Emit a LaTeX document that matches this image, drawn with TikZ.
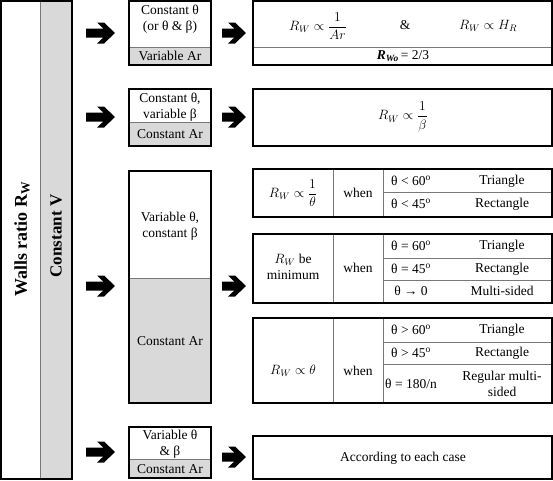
\RequirePackage{fix-cm}
\documentclass[tikz,border=0pt]{standalone}
\usepackage{amsmath}
\usepackage{fontspec}
\setmainfont{Liberation Serif}
\definecolor{grayfill}{RGB}{217,217,217}
\definecolor{sepgray}{RGB}{120,120,120}
\tikzset{
  boxframe/.style={draw=black, line width=1.7pt},
  sepline/.style={draw=sepgray, line width=0.8pt},
  lbl/.style={align=center, inner sep=0pt, font=\fontsize{13.5}{16.5}\selectfont},
  blockarr/.style={fill=black, draw=none}
}
\newcommand{\blockarrow}[3]{% left x, right x, center y
  \fill[blockarr] (#1,#3-4.5) -- (#2-11.7,#3-4.5) -- (#2-18,#3-10.5) -- (#2-11,#3-10.5)
    -- (#2,#3) -- (#2-11,#3+10.5) -- (#2-18,#3+10.5) -- (#2-11.7,#3+4.5) -- (#1,#3+4.5) -- cycle;}
\begin{document}
\begin{tikzpicture}[x=1pt,y=-1pt]
\useasboundingbox (0,0) rectangle (553,480);
% ---------- left column ----------
\fill[grayfill] (40,1) rectangle (72,479);
\draw[sepline] (40,1) -- (40,479);
\draw[boxframe] (1,1) rectangle (72,479);
\node[lbl, rotate=90, font=\fontsize{18}{20}\selectfont\bfseries] (walls) at (22,239) {Walls ratio R\textsubscript{W}};
\node[lbl, rotate=90, font=\fontsize{17}{19}\selectfont\bfseries] (constV) at (56,236) {Constant V};
% ---------- arrows ----------
\blockarrow{86}{115}{33}
\blockarrow{86}{115}{117}
\blockarrow{86}{115}{286}
\blockarrow{86}{115}{452}
\blockarrow{222}{246}{33}
\blockarrow{222}{246}{117}
\blockarrow{222}{246}{286}
\blockarrow{222}{246}{457}
% ---------- middle boxes ----------
\fill[grayfill] (129,47) rectangle (211,65);
\draw[sepline] (129,47) -- (211,47);
\draw[boxframe] (129,1) rectangle (211,65);
\node[lbl] (m1a) at (170,19) {Constant θ\\(or θ \& β)};
\node[lbl] (m1b) at (170,56) {Variable Ar};

\fill[grayfill] (129,122) rectangle (211,146);
\draw[sepline] (129,122) -- (211,122);
\draw[boxframe] (129,89) rectangle (211,146);
\node[lbl] (m2a) at (170,107) {Constant θ,\\variable β};
\node[lbl] (m2b) at (170,134) {Constant Ar};

\fill[grayfill] (129,278) rectangle (211,403);
\draw[sepline] (129,278) -- (211,278);
\draw[boxframe] (129,171) rectangle (211,403);
\node[lbl] (m3a) at (170,226) {Variable θ,\\constant β};
\node[lbl] (m3b) at (170,341) {Constant Ar};

\fill[grayfill] (129,459) rectangle (211,478);
\draw[sepline] (129,459) -- (211,459);
\draw[boxframe] (129,427) rectangle (211,478);
\node[lbl] (m4a) at (170,444) {Variable θ\\\& β};
\node[lbl] (m4b) at (170,469) {Constant Ar};
% ---------- right boxes ----------
\draw[sepline] (253,47) -- (552,47);
\draw[boxframe] (253,1) rectangle (552,65);
\node[lbl] (r1a) at (318,26) {$R_W \propto \dfrac{1}{Ar}$};
\node[lbl] (r1b) at (405,25) {\&};
\node[lbl] (r1c) at (488,26) {$R_W \propto H_R$};
\node[lbl] (r1d) at (403,56) {\textbf{\textit{R}}\textsubscript{\textbf{\textit{Wo}}}\,= 2/3};

\draw[boxframe] (253,89) rectangle (552,146);
\node[lbl] (r2) at (403,117) {$R_W \propto \dfrac{1}{\beta}$};

% table 1
\draw[sepline] (333,169) -- (333,217) (383,169) -- (383,217) (383,192) -- (552,192);
\draw[boxframe] (253,169) rectangle (552,217);
\node[lbl] (t1a) at (293,193) {$R_W \propto \dfrac{1}{\theta}$};
\node[lbl] (t1w) at (358,193) {when};
\node[lbl] (t1c1) at (411,181) {θ < 60\textsuperscript{o}};
\node[lbl] (t1s1) at (502,181) {Triangle};
\node[lbl] (t1c2) at (411,204) {θ < 45\textsuperscript{o}};
\node[lbl] (t1s2) at (502,204) {Rectangle};

% table 2
\draw[sepline] (333,234) -- (333,303) (383,234) -- (383,303) (383,258) -- (552,258) (383,280) -- (552,280);
\draw[boxframe] (253,234) rectangle (552,303);
\node[lbl] (t2a) at (293,267) {$R_W$ be\\minimum};
\node[lbl] (t2w) at (358,268) {when};
\node[lbl] (t2c1) at (411,246) {θ = 60\textsuperscript{o}};
\node[lbl] (t2s1) at (502,246) {Triangle};
\node[lbl] (t2c2) at (411,269) {θ = 45\textsuperscript{o}};
\node[lbl] (t2s2) at (502,269) {Rectangle};
\node[lbl] (t2c3) at (411,291) {θ → 0};
\node[lbl] (t2s3) at (502,291) {Multi-sided};

% table 3
\draw[sepline] (333,318) -- (333,403) (383,318) -- (383,403) (383,342) -- (552,342) (383,364) -- (552,364);
\draw[boxframe] (253,318) rectangle (552,403);
\node[lbl] (t3a) at (293,371) {$R_W \propto \theta$};
\node[lbl] (t3w) at (358,371) {when};
\node[lbl] (t3c1) at (411,330) {θ > 60\textsuperscript{o}};
\node[lbl] (t3s1) at (502,330) {Triangle};
\node[lbl] (t3c2) at (411,353) {θ > 45\textsuperscript{o}};
\node[lbl] (t3s2) at (502,353) {Rectangle};
\node[lbl] (t3c3) at (411,384) {θ = 180/n};
\node[lbl] (t3s3) at (502,384) {Regular multi-\\sided};

% last box
\draw[boxframe] (253,436) rectangle (552,479);
\node[lbl] (r5) at (403,458) {According to each case};
\end{tikzpicture}
\end{document}
